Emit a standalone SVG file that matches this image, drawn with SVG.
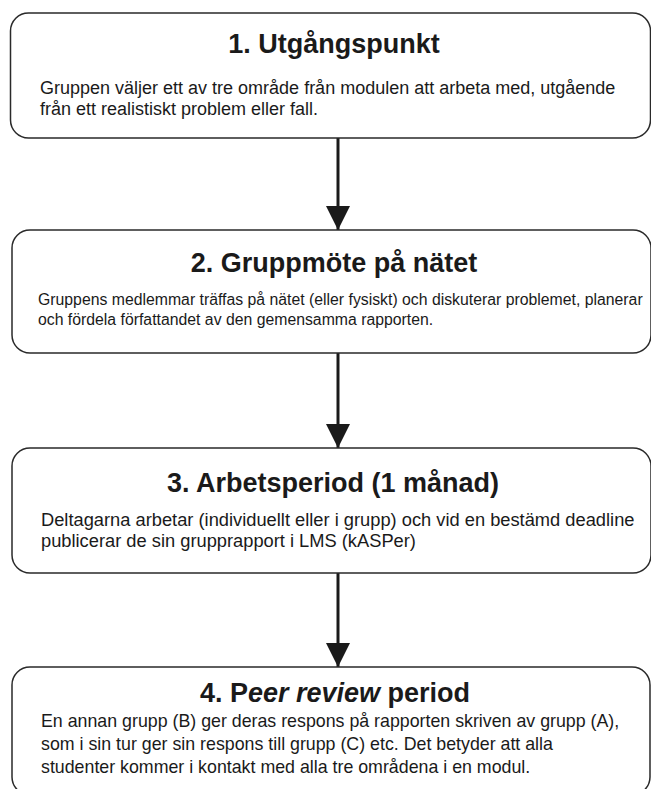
<svg xmlns="http://www.w3.org/2000/svg" width="651" height="789" viewBox="0 0 651 789">
<style>
.box{fill:#fff;stroke:#2a2a2a;stroke-width:1.5}
.t{font-family:"Liberation Sans",Arial,sans-serif;font-weight:bold;font-size:27px;fill:#1a1a1a;text-anchor:middle}
.b{font-family:"Liberation Sans",Arial,sans-serif;fill:#1a1a1a}
.c{stroke:#1a1a1a;stroke-width:3;fill:none}
</style>
<defs>
<marker id="ah" markerWidth="8" markerHeight="8" refX="8" refY="4" orient="auto" markerUnits="strokeWidth">
<path d="M0,0 L8,4 L0,8 Z" fill="#1a1a1a"/>
</marker>
</defs>
<rect width="651" height="789" fill="#fff"/>
<g id="connectors">
<line class="c" x1="338" y1="138" x2="338" y2="230" marker-end="url(#ah)"/>
<line class="c" x1="338" y1="353" x2="338" y2="448" marker-end="url(#ah)"/>
<line class="c" x1="338" y1="573" x2="338" y2="667" marker-end="url(#ah)"/>
</g>
<g id="node1">
<rect class="box" x="10.5" y="13" width="640" height="125" rx="18"/>
<text class="t" x="334" y="53">1. Utgångspunkt</text>
<text class="b" font-size="18" x="40" y="94">Gruppen väljer ett av tre område från modulen att arbeta med, utgående</text>
<text class="b" font-size="18" x="40" y="115">från ett realistiskt problem eller fall.</text>
</g>
<g id="node2">
<rect class="box" x="12" y="230" width="639" height="123" rx="18"/>
<text class="t" x="334" y="272">2. Gruppmöte på nätet</text>
<text class="b" font-size="15.8" x="38" y="305">Gruppens medlemmar träffas på nätet (eller fysiskt) och diskuterar problemet, planerar</text>
<text class="b" font-size="15.8" x="38" y="325">och fördela författandet av den gemensamma rapporten.</text>
</g>
<g id="node3">
<rect class="box" x="12" y="448" width="639" height="125" rx="18"/>
<text class="t" x="333" y="492">3. Arbetsperiod (1 månad)</text>
<text class="b" font-size="18.3" x="41" y="526">Deltagarna arbetar (individuellt eller i grupp) och vid en bestämd deadline</text>
<text class="b" font-size="18.3" x="41" y="547">publicerar de sin grupprapport i LMS (kASPer)</text>
</g>
<g id="node4">
<rect class="box" x="12" y="667" width="638" height="128" rx="18"/>
<text class="t" x="335" y="702">4. P<tspan font-style="italic">eer review</tspan> period</text>
<text class="b" font-size="17.8" x="41" y="727">En annan grupp (B) ger deras respons på rapporten skriven av grupp (A),</text>
<text class="b" font-size="17.8" x="41" y="750">som i sin tur ger sin respons till grupp (C) etc. Det betyder att alla</text>
<text class="b" font-size="17.8" x="41" y="773">studenter kommer i kontakt med alla tre områdena i en modul.</text>
</g>
</svg>
